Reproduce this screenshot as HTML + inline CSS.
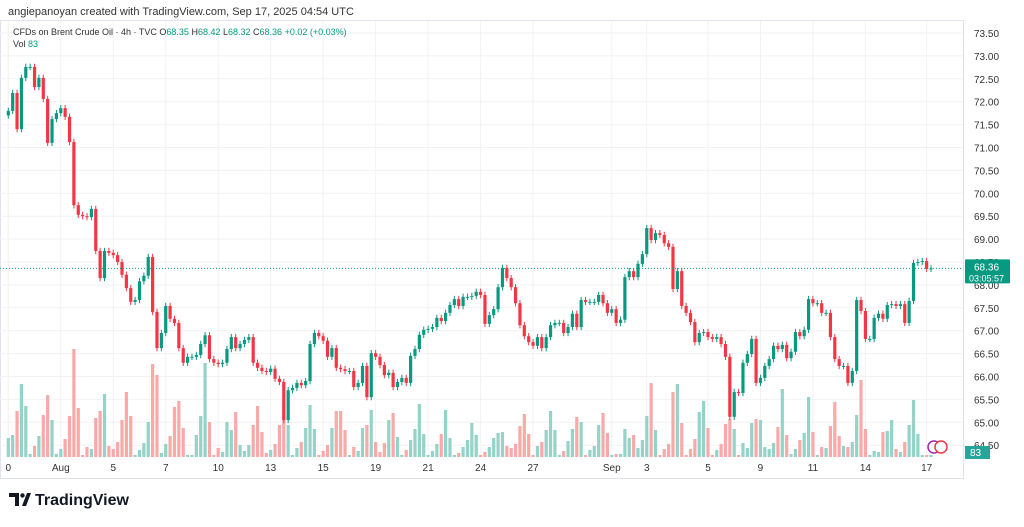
<!DOCTYPE html>
<html><head><meta charset="utf-8"><style>
body{margin:0;background:#fff;width:1024px;height:522px;overflow:hidden;font-family:"Liberation Sans",sans-serif}
svg text{font-family:"Liberation Sans",sans-serif}
</style></head><body>
<svg id="chart" width="1024" height="522" xmlns="http://www.w3.org/2000/svg">
<text x="8" y="15" font-size="11" fill="#333">angiepanoyan created with TradingView.com, Sep 17, 2025 04:54 UTC</text>
<g id="grid"></g>
<g id="vol"></g>
<g id="candles"></g>
<g id="yaxis"></g>
<g id="xaxis"></g>
<text x="13" y="35" font-size="9" fill="#333">CFDs on Brent Crude Oil · 4h · TVC  <tspan>O</tspan><tspan fill="#089981">68.35</tspan> H<tspan fill="#089981">68.42</tspan> L<tspan fill="#089981">68.32</tspan> C<tspan fill="#089981">68.36</tspan> <tspan fill="#089981">+0.02 (+0.03%)</tspan></text>
<text x="13" y="47" font-size="9" fill="#333">Vol <tspan fill="#089981">83</tspan></text>
<g>
<path d="M9 493h10v13h-4v-9h-6z M22 506l5-13h4l-5 13z" fill="#131722"/><circle cx="22.5" cy="495.5" r="2.2" fill="#131722"/>
<text x="35" y="505" font-size="16" font-weight="bold" fill="#131722">TradingView</text></g>
</svg>
<script>
const closes=[71.8,72.19,71.4,72.52,72.76,72.76,72.32,72.52,72.06,71.1,71.62,71.75,71.86,71.67,71.12,69.74,69.53,69.5,69.48,69.66,68.74,68.15,68.74,68.7,68.65,68.5,68.22,67.93,67.63,67.67,68.08,68.2,68.61,67.41,66.62,66.95,67.54,67.26,67.17,66.62,66.3,66.43,66.43,66.47,66.71,66.9,66.38,66.3,66.27,66.3,66.6,66.86,66.62,66.71,66.8,66.86,66.3,66.19,66.12,66.1,66.17,65.95,65.88,65.05,65.7,65.75,65.86,65.81,65.9,66.71,66.95,66.88,66.78,66.43,66.62,66.19,66.16,66.12,66.12,65.77,65.86,66.23,65.55,66.51,66.43,66.25,66.03,66.08,65.77,65.88,65.97,65.86,66.45,66.6,66.91,67.02,67.04,67.08,67.28,67.21,67.39,67.56,67.69,67.54,67.74,67.74,67.76,67.85,67.78,67.15,67.34,67.47,67.95,68.37,68.15,67.95,67.6,67.12,66.88,66.75,66.67,66.86,66.62,66.86,67.12,67.17,67.17,66.95,67.08,67.37,67.08,67.67,67.63,67.63,67.63,67.78,67.6,67.39,67.47,67.17,67.24,68.17,68.3,68.17,68.46,68.67,69.24,68.98,69.13,69.09,68.91,68.83,67.91,68.3,67.54,67.39,67.19,66.75,66.95,66.97,66.86,66.82,66.86,66.71,66.43,65.12,65.66,65.64,66.3,66.49,66.82,65.86,65.97,66.23,66.38,66.67,66.6,66.69,66.4,66.54,66.97,66.88,67.02,67.69,67.6,67.6,67.39,67.39,66.86,66.38,66.23,66.23,65.86,66.12,67.67,67.43,66.82,66.82,67.28,67.37,67.26,67.56,67.58,67.54,67.58,67.17,67.65,68.48,68.5,68.52,68.35,68.36];
const volumes=[19,22,46,73,51,3,11,21,42,62,37,3,8,18,41,108,49,2,10,8,39,46,63,11,8,15,37,65,41,2,7,14,35,93,82,4,13,21,50,56,29,2,2,22,41,94,35,2,9,5,35,27,45,12,6,12,32,51,25,4,7,13,32,51,32,2,9,15,29,52,28,2,6,12,29,46,46,27,2,10,6,29,32,47,15,5,14,37,44,20,2,7,17,28,53,23,2,6,13,23,47,19,2,4,10,17,34,22,2,5,10,19,24,25,11,9,13,31,43,23,2,11,15,27,46,27,2,6,16,28,40,35,2,7,11,32,44,24,2,3,3,28,19,22,9,17,41,74,27,2,8,13,65,73,34,2,8,18,45,56,29,2,7,13,33,38,28,2,14,9,34,38,37,10,8,14,30,68,22,3,8,17,24,60,25,2,10,9,31,55,21,11,10,15,42,77,28,2,6,5,25,26,37,8,5,15,32,57,23,2,2,2];
const firstOpen=71.7;
const priceTicks=[73.5,73,72.5,72,71.5,71,70.5,70,69.5,69,68.5,68,67.5,67,66.5,66,65.5,65,64.5];
const timeLabels=["0","Aug","5","7","10","13","15","19","21","24","27","Sep","3","5","9","11","14","17"];
const timeLabelBars=[0,12,24,36,48,60,72,84,96,108,120,138,146,160,172,184,196,210];
const NS="http://www.w3.org/2000/svg";
function mk(tag,attrs,parent){const e=document.createElementNS(NS,tag);for(const k in attrs)e.setAttribute(k,attrs[k]);parent.appendChild(e);return e;}
const X=i=>8.3+i*4.373;
const Y=p=>33+(73.5-p)*45.8;
const VY=v=>457-v;
const G=document.getElementById('grid'),V=document.getElementById('vol'),C=document.getElementById('candles'),YA=document.getElementById('yaxis'),XA=document.getElementById('xaxis');
// frame
let fr=mk('rect',{x:0.5,y:20.5,width:963,height:458,fill:'none',stroke:'#e0e3eb'},G);


priceTicks.forEach(p=>{
  let l=mk('line',{x1:0,x2:963,y1:Y(p),y2:Y(p),stroke:'#f2f2f5'},G);
  
  
  let t=mk('text',{x:974,y:Y(p)+4,'font-size':10,fill:'#333'},YA);t.textContent=p.toFixed(2);
  
  
});
timeLabels.forEach((s,k)=>{
  const x=X(timeLabelBars[k]);
  let l=mk('line',{x1:x,x2:x,y1:21,y2:457,stroke:'#f2f2f5'},G);
  
  
  let t=mk('text',{x:x,y:471,'font-size':10,fill:'#333','text-anchor':'middle'},XA);t.textContent=s;
  
  
});
closes.forEach((c,i)=>{
  const o=i?closes[i-1]:firstOpen;const up=c>=o;const col=up?'#089981':'#f23645';
  const x=X(i);
  let vb=mk('rect',{x:x-1.6,y:VY(volumes[i]),width:3.2,height:volumes[i],fill:up?'#95d3c9':'#f8aaa9'},V);
  
  
  const hi=Math.max(o,c)+0.07,lo=Math.min(o,c)-0.07;
  let w=mk('line',{x1:x,x2:x,y1:Y(hi),y2:Y(lo),stroke:col,'stroke-width':1},C);
  
  
  const top=Y(Math.max(o,c)),h=Math.max(1,Math.abs(Y(o)-Y(c)));
  let b=mk('rect',{x:x-1.6,y:top,width:3.2,height:h,fill:col},C);
  
  
});
const last=closes[closes.length-1];
let pl=mk('line',{x1:0,x2:963,y1:Y(last),y2:Y(last),stroke:'#089981','stroke-dasharray':'1,2','stroke-width':1},C);


let tag=mk('rect',{x:965,y:Y(last)-9,width:45,height:24,fill:'#089981',rx:1},YA);


let t1=mk('text',{x:974,y:Y(last)+2,'font-size':10,fill:'#fff'},YA);t1.textContent=last.toFixed(2);
let t2=mk('text',{x:969,y:Y(last)+13,'font-size':9,fill:'#fff'},YA);t2.textContent='03:05:57';
let vt=mk('rect',{x:965,y:446,width:25,height:13,fill:'#26a69a'},YA);


let vtt=mk('text',{x:970,y:456,'font-size':10,fill:'#fff'},YA);vtt.textContent='83';
// event icons
[[934,'#9c27b0'],[941,'#f23645']].forEach(([x,c])=>{
  let e=mk('circle',{cx:x,cy:447,r:6,fill:'#fff',stroke:c,'stroke-width':1.5},C);
  
  
});
</script>
</body></html>
